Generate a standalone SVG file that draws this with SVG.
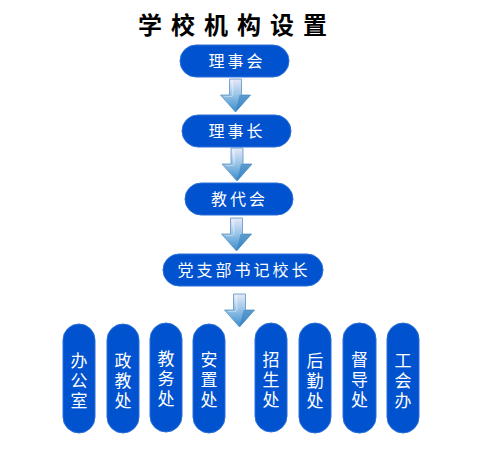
<svg xmlns="http://www.w3.org/2000/svg" xmlns:xlink="http://www.w3.org/1999/xlink" width="504" height="472" viewBox="0 0 504 472">
<defs>
<style>
.box{fill:#0052cf;stroke:#2a6fd8;stroke-width:1}
.bt{font-family:"Noto Sans CJK SC","Noto Sans",sans-serif;font-size:16px;fill:#ffffff;text-anchor:middle;letter-spacing:3px}
.pt{font-family:"Noto Sans CJK SC","Noto Sans",sans-serif;font-size:17px;fill:#ffffff;text-anchor:middle;writing-mode:vertical-rl;letter-spacing:3px}
.title{font-family:"Noto Sans CJK SC","Noto Sans",sans-serif;font-size:24px;font-weight:700;fill:#000000}
</style>
<linearGradient id="ag" x1="0" y1="0" x2="0" y2="1">
<stop offset="0" stop-color="#e6e8f8"/>
<stop offset="0.45" stop-color="#9cc6e8"/>
<stop offset="1" stop-color="#3a8ccc"/>
</linearGradient>
<g id="arrow">
<path d="M-6,0 H6 V16 H15 L0,33 L-15,16 H-6 Z" fill="url(#ag)" stroke="#5a94c4" stroke-width="0.8"/>
<path d="M0,33 L15,16 H4 Z" fill="#2f7cbc" opacity="0.55"/>
<path d="M-5,1 H-2 V17 H-12 L-10,18 H-3 Z" fill="#ffffff" opacity="0.35"/>
</g>
</defs>
<rect width="504" height="472" fill="#ffffff"/>
<g id="title">
<text class="title" x="138 171 204 237 270 303" y="34">学校机构设置</text>
</g>
<g id="connectors">
<use xlink:href="#arrow" transform="translate(235.5,79)"/>
<use xlink:href="#arrow" transform="translate(237,148)"/>
<use xlink:href="#arrow" transform="translate(236.5,218)"/>
<use xlink:href="#arrow" transform="translate(239.5,294)"/>
</g>
<g id="n1"><rect class="box" x="180" y="45" width="109" height="32" rx="16"/><text class="bt" x="237" y="67">理事会</text></g>
<g id="n2"><rect class="box" x="182" y="115" width="109" height="32" rx="16"/><text class="bt" x="237" y="137">理事长</text></g>
<g id="n3"><rect class="box" x="185" y="183" width="108" height="32" rx="16"/><text class="bt" x="239.5" y="205">教代会</text></g>
<g id="n4"><rect class="box" x="163" y="254" width="160" height="32" rx="16"/><text class="bt" x="244" y="276">党支部书记校长</text></g>
<g id="p1"><rect class="box" x="63" y="324" width="32" height="109" rx="16"/><text class="pt" x="79" y="382.5">办公室</text></g>
<g id="p2"><rect class="box" x="107" y="324" width="32" height="109" rx="16"/><text class="pt" x="123" y="382">政教处</text></g>
<g id="p3"><rect class="box" x="150" y="323" width="32" height="109" rx="16"/><text class="pt" x="166" y="380">教务处</text></g>
<g id="p4"><rect class="box" x="193" y="324" width="32" height="109" rx="16"/><text class="pt" x="209" y="381">安置处</text></g>
<g id="p5"><rect class="box" x="255" y="323" width="32" height="109" rx="16"/><text class="pt" x="271" y="381">招生处</text></g>
<g id="p6"><rect class="box" x="299" y="323" width="32" height="110" rx="16"/><text class="pt" x="315" y="382">后勤处</text></g>
<g id="p7"><rect class="box" x="343" y="323" width="33" height="110" rx="16"/><text class="pt" x="359.5" y="381">督导处</text></g>
<g id="p8"><rect class="box" x="387" y="323" width="32" height="110" rx="16"/><text class="pt" x="403" y="382">工会办</text></g>
</svg>
